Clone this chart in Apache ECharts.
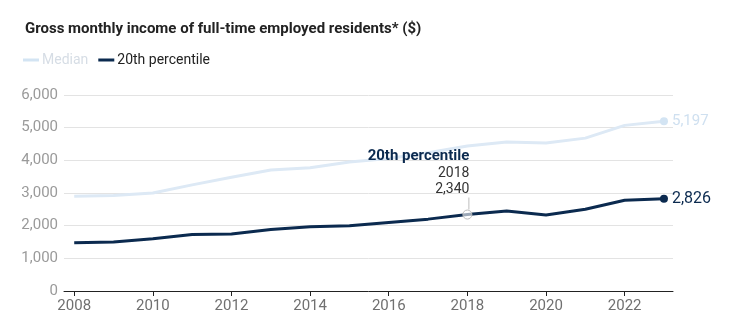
<!DOCTYPE html>
<html>
<head>
<meta charset="utf-8">
<script src="https://cdn.jsdelivr.net/npm/echarts@6/dist/echarts.min.js"></script>
<style>
  html, body { margin: 0; padding: 0; background: #fff; }
  #chart { width: 733px; height: 332px; }
</style>
</head>
<body>
<div id="chart"></div>
<script>
// Gross monthly income of full-time employed residents ($)
const years = [2008, 2009, 2010, 2011, 2012, 2013, 2014, 2015, 2016, 2017, 2018, 2019, 2020, 2021, 2022, 2023];
const median = [2897, 2927, 3000, 3249, 3480, 3705, 3770, 3949, 4056, 4232, 4437, 4563, 4534, 4680, 5070, 5197];
const pct20 = [1480, 1500, 1600, 1733, 1742, 1880, 1964, 2000, 2100, 2200, 2340, 2450, 2327, 2500, 2776, 2826];
const yearTicks = [2008, 2010, 2012, 2014, 2016, 2018, 2020, 2022];
const valueTicks = [0, 1000, 2000, 3000, 4000, 5000, 6000];
const highlightYear = 2018;

const FONT = 'Roboto, "Noto Sans", sans-serif';
const NAVY = '#0b2a4f';
const PALE = '#dde9f5';
const fmt = v => Number(v).toLocaleString('en-US');

const medianData = years.map((y, i) => [y, median[i]]);
const pctData = years.map((y, i) => {
  const item = { value: [y, pct20[i]] };
  if (y === highlightYear) {
    // hovered point: hollow marker with a stacked label above it
    item.symbol = 'circle';
    item.symbolSize = 9;
    item.itemStyle = { color: 'rgba(255,255,255,0.6)', borderColor: '#bdbdbd', borderWidth: 1 };
    item.label = {
      show: true,
      position: 'top',
      align: 'right',
      distance: 0,
      offset: [2, 0],
      formatter: () => '{t|20th percentile}\n{d|' + y + '}\n{d|' + fmt(pct20[i]) + '}\n{l|}',
      rich: {
        t: { fontFamily: FONT, fontSize: 15, fontWeight: 'bold', color: NAVY, lineHeight: 18, align: 'right' },
        d: { fontFamily: FONT, fontSize: 14, color: '#333', lineHeight: 16, align: 'right' },
        l: { width: 1, height: 12, backgroundColor: '#bdbdbd', align: 'right' }
      }
    };
  } else if (i < years.length - 1) {
    item.symbol = 'none';
  }
  return item;
});

const chart = echarts.init(document.getElementById('chart'), null, { renderer: 'canvas' });
chart.setOption({
  animation: false,
  backgroundColor: '#fff',
  textStyle: { fontFamily: FONT },
  title: {
    text: 'Gross monthly income of full-time employed residents* ($)',
    left: 20, top: 17,
    textStyle: { fontFamily: FONT, fontSize: 15, fontWeight: 'bold', color: '#222' }
  },
  legend: {
    left: 18, top: 48,
    icon: 'rect',
    itemWidth: 16, itemHeight: 3, itemGap: 10,
    textStyle: { fontFamily: FONT, fontSize: 14, color: '#333', padding: [0, 0, 0, -2] },
    data: [
      { name: 'Median', textStyle: { color: '#d6dde5' } },
      { name: '20th percentile', textStyle: { color: '#222' } }
    ]
  },
  grid: { left: 64, right: 60, top: 95, bottom: 41, containLabel: false },
  xAxis: {
    type: 'value',
    min: 2007.74,
    max: 2023.23,
    axisLine: { show: true, lineStyle: { color: '#222', width: 1 } },
    axisTick: { show: true, length: 5, customValues: yearTicks, lineStyle: { color: '#222' } },
    axisLabel: { customValues: yearTicks, formatter: v => String(v), color: '#707070', fontFamily: FONT, fontSize: 15, margin: 8 },
    splitLine: { show: false }
  },
  yAxis: {
    type: 'value',
    min: valueTicks[0],
    max: valueTicks[valueTicks.length - 1],
    interval: 1000,
    axisLine: { show: false },
    axisTick: { show: false },
    axisLabel: { formatter: fmt, color: '#9a9a9a', fontFamily: FONT, fontSize: 15, margin: 6 },
    splitLine: { lineStyle: { color: '#e3e3e3', width: 1 } }
  },
  series: [
    {
      name: 'Median',
      type: 'line',
      data: medianData,
      color: PALE,
      lineStyle: { color: PALE, width: 3 },
      symbol: (v, p) => p.dataIndex === years.length - 1 ? 'circle' : 'none',
      symbolSize: 8,
      itemStyle: { color: '#d3e4f3' },
      endLabel: {
        show: true, distance: 8,
        formatter: p => fmt(p.value[1]),
        color: '#cfe0f0', fontFamily: FONT, fontSize: 15
      },
      z: 2
    },
    {
      name: '20th percentile',
      type: 'line',
      data: pctData,
      color: NAVY,
      lineStyle: { color: NAVY, width: 3 },
      symbol: 'circle',
      symbolSize: 8,
      itemStyle: { color: NAVY },
      endLabel: {
        show: true, distance: 8,
        formatter: p => fmt(p.value[1]),
        color: NAVY, fontFamily: FONT, fontSize: 16
      },
      z: 3
    }
  ]
});
</script>
</body>
</html>
